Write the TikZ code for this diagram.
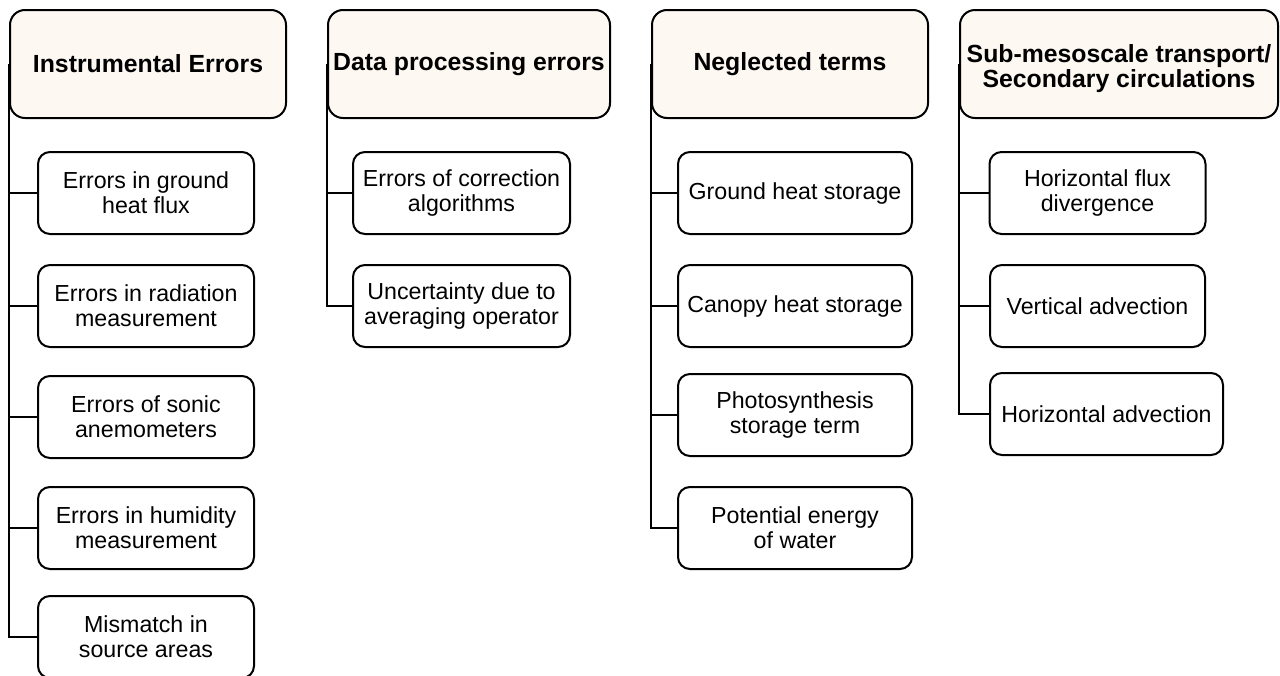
\documentclass[tikz,border=0pt]{standalone}
\usepackage{fontspec}
\setmainfont{Liberation Sans}
\usepackage{tikz}
\usetikzlibrary{calc}
\definecolor{headfill}{RGB}{253,248,242}
\tikzset{
  headbox/.style={draw=black, line width=1pt, fill=headfill, rounded corners=7.5pt,
    inner sep=0pt, minimum height=54pt, align=center,
    font=\fontsize{12.4}{11.2}\selectfont\bfseries},
  itembox/.style={draw=black, line width=1pt, fill=white, rounded corners=6pt,
    inner sep=0pt, minimum height=41pt, align=center,
    font=\fontsize{11.6}{12.5}\selectfont},
  link/.style={draw=black, line width=1pt}
}

\begin{document}
\begin{tikzpicture}[x=0.5pt, y=-0.5pt]
        \useasboundingbox (0,0) rectangle (1280,675);

        \node[headbox, minimum width=138pt] (hInst) at (148,64) {Instrumental Errors};
        \node[itembox, minimum width=108pt] (iGround) at (146,193) {Errors in ground\\heat flux};
        \node[itembox, minimum width=108pt] (iRad) at (146,306) {Errors in radiation\\measurement};
        \node[itembox, minimum width=108pt] (iSonic) at (146,417) {Errors of sonic\\anemometers};
        \node[itembox, minimum width=108pt] (iHum) at (146,528) {Errors in humidity\\measurement};
        \node[itembox, minimum width=108pt] (iSrc) at (146,637) {Mismatch in\\source areas};
        \draw[link] (hInst.west) |- (iGround.west);
        \draw[link] (hInst.west) |- (iRad.west);
        \draw[link] (hInst.west) |- (iSonic.west);
        \draw[link] (hInst.west) |- (iHum.west);
        \draw[link] (hInst.west) |- (iSrc.west);

        \node[headbox, minimum width=141pt] (hProc) at (469,64) {Data processing errors};
        \node[itembox, minimum width=108.5pt] (pCorr) at (461.5,193) {Errors of correction\\algorithms};
        \node[itembox, minimum width=108.5pt] (pAvg) at (461.5,306) {Uncertainty due to\\averaging operator};
        \draw[link] (hProc.west) |- (pCorr.west);
        \draw[link] (hProc.west) |- (pAvg.west);

        \node[headbox, minimum width=138pt] (hNegl) at (790,64) {Neglected terms};
        \node[itembox, minimum width=117pt] (nGround) at (795,193) {Ground heat storage};
        \node[itembox, minimum width=117pt] (nCanopy) at (795,306) {Canopy heat storage};
        \node[itembox, minimum width=117pt] (nPhoto) at (795,415) {Photosynthesis\\storage term};
        \node[itembox, minimum width=117pt] (nWater) at (795,528) {Potential energy\\of water};
        \draw[link] (hNegl.west) |- (nGround.west);
        \draw[link] (hNegl.west) |- (nCanopy.west);
        \draw[link] (hNegl.west) |- (nPhoto.west);
        \draw[link] (hNegl.west) |- (nWater.west);

        \node[headbox, minimum width=159pt] (hMeso) at (1119,64) {\rule{0pt}{14pt}Sub-mesoscale transport/\\Secondary circulations};
        \node[itembox, minimum width=108pt] (mDiv) at (1097.5,193) {Horizontal flux\\divergence};
        \node[itembox, minimum width=107.5pt] (mVert) at (1097.5,306) {Vertical advection};
        \node[itembox, minimum width=116.5pt] (mHor) at (1106.5,414) {Horizontal advection};
        \draw[link] (hMeso.west) |- (mDiv.west);
        \draw[link] (hMeso.west) |- (mVert.west);
        \draw[link] (hMeso.west) |- (mHor.west);

    \end{tikzpicture}
\end{document}
